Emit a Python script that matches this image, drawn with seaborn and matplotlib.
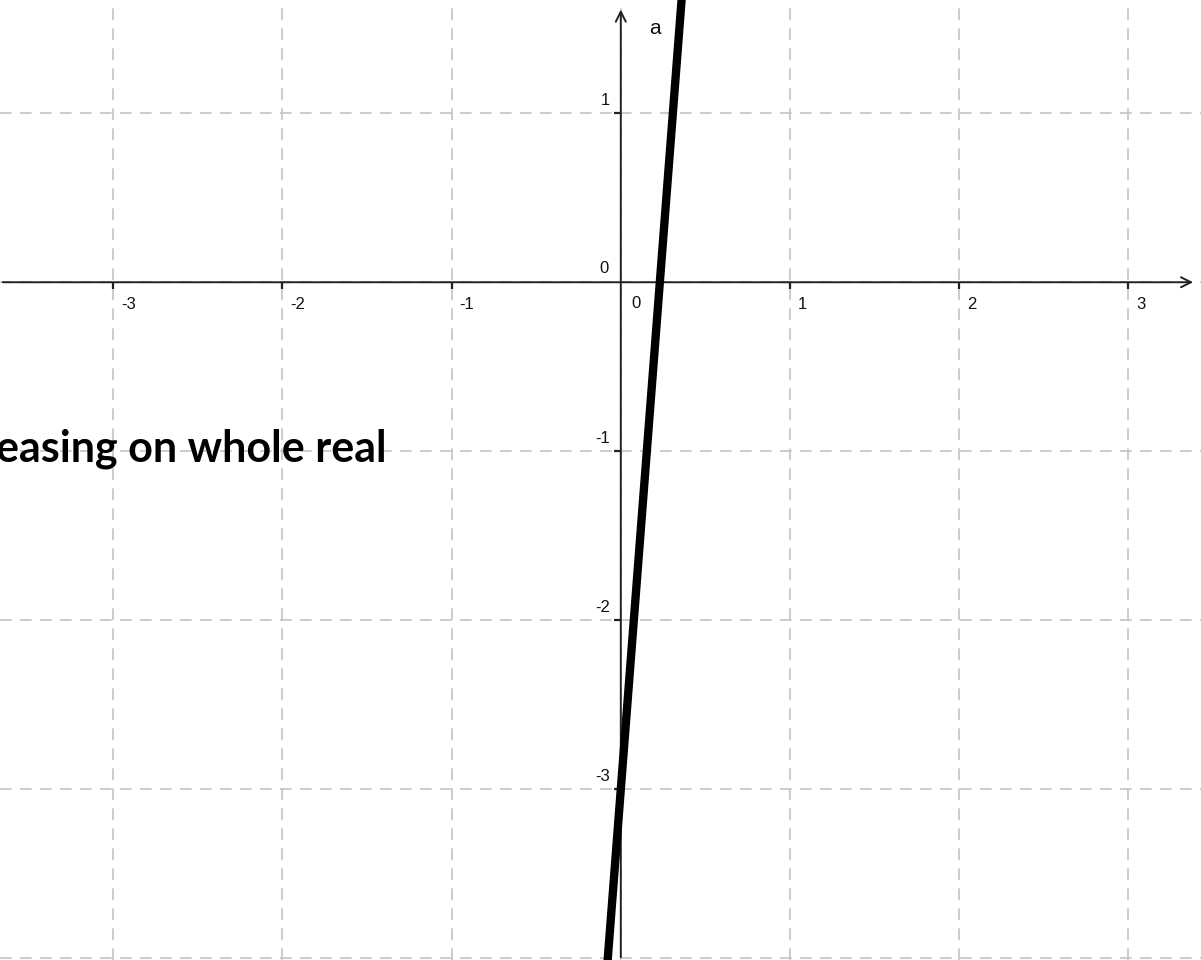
import matplotlib
matplotlib.use("Agg")
import matplotlib.pyplot as plt
import seaborn as sns
import pandas as pd

# line a: y = 13x - 3
line_x = [-0.12, 0.40]
line_y = [-4.56, 2.20]

x_ticks = [-3, -2, -1, 1, 2, 3]
y_ticks = [1, -1, -2, -3]
grid_x = [-3, -2, -1, 0, 1, 2, 3]
grid_y = [1, 0, -1, -2, -3, -4]

caption = "increasing on whole real"

sns.set_style("white")
plt.rcParams["font.family"] = ["Liberation Sans", "DejaVu Sans"]

fig = plt.figure(figsize=(12.01, 9.6), dpi=100)
ax = fig.add_axes([0, 0, 1, 1])
ax.set_xlim(-3.67, 3.43)
ax.set_ylim(-4.01, 1.67)
ax.axis("off")

# dashed grid
for gx in grid_x:
    ax.axvline(gx, color="#c4c4c4", lw=1.2, ls=(0, (7, 5)), zorder=1)
for gy in grid_y:
    ax.axhline(gy, color="#c4c4c4", lw=1.2, ls=(0, (7, 5)), zorder=1)

# axes with arrows
ax.annotate("", xy=(3.40, 0), xytext=(-3.67, 0),
            arrowprops=dict(arrowstyle="->", lw=1.4, color="#222222", mutation_scale=18), zorder=3)
ax.annotate("", xy=(0, 1.63), xytext=(0, -4.01),
            arrowprops=dict(arrowstyle="->", lw=1.4, color="#222222", mutation_scale=18), zorder=3)

# ticks
ax.plot(x_ticks, [0] * len(x_ticks), ls="none", marker=3, ms=5, mew=1.6, color="#222222", zorder=3)
ax.plot([0] * len(y_ticks), y_ticks, ls="none", marker=0, ms=5, mew=1.6, color="#222222", zorder=3)

for k in x_ticks:
    ax.annotate(str(k), (k, 0), xytext=(8, -15), textcoords="offset pixels",
                ha="left", va="top", fontsize=12, color="#111111")
for k in y_ticks:
    ax.annotate(str(k), (0, k), xytext=(-11, 5), textcoords="offset pixels",
                ha="right", va="bottom", fontsize=12, color="#111111")
ax.annotate("0", (0, 0), xytext=(-12, 6), textcoords="offset pixels",
            ha="right", va="bottom", fontsize=12, color="#111111")
ax.annotate("0", (0, 0), xytext=(11, -14), textcoords="offset pixels",
            ha="left", va="top", fontsize=12, color="#111111")

# the function
df = pd.DataFrame({"x": line_x, "y": line_y})
sns.lineplot(data=df, x="x", y="y", color="black", lw=6, ax=ax, zorder=4)
ax.text(0.2, 1.5, "a", ha="center", va="center", fontsize=15, color="#111111")

# caption runs off the left edge, as in the reference
fig.text(387 / 1201, 1 - 462 / 960, caption, ha="right", va="baseline",
         fontsize=31, fontweight="bold", family=["Lato", "DejaVu Sans"], color="black")

fig.savefig("out.png", dpi=100)
